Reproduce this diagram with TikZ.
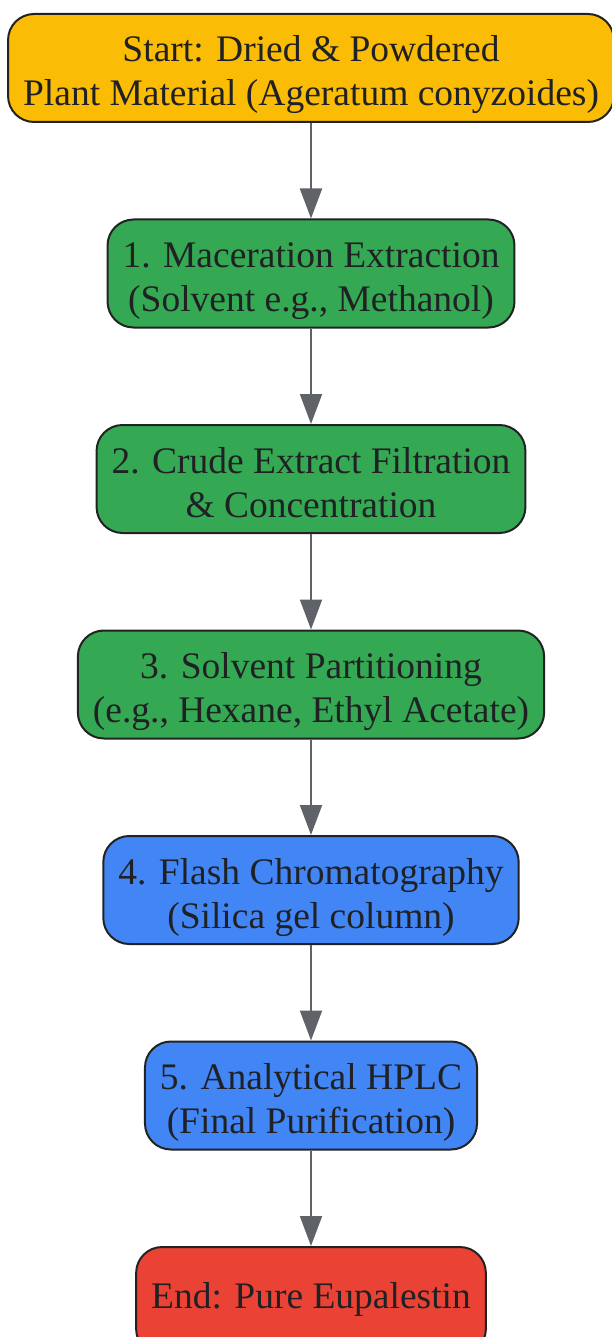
\documentclass[tikz,border=0pt]{standalone}
\usepackage{fontspec}
\setmainfont{Liberation Serif}
\usetikzlibrary{positioning,arrows.meta}

\definecolor{startyellow}{HTML}{FBBC05}
\definecolor{stepgreen}{HTML}{34A853}
\definecolor{stepblue}{HTML}{4285F4}
\definecolor{endred}{HTML}{EA4335}
\definecolor{boxline}{HTML}{222222}
\definecolor{arrowgray}{HTML}{5F6368}
\definecolor{labeltext}{HTML}{202124}

\begin{document}
\begin{tikzpicture}[x=1pt,y=1pt,
        node distance=95.5pt,
        stage/.style={draw=boxline, line width=2pt, rounded corners=26pt,
            minimum height=108pt, inner xsep=15pt, align=center,
            text height=76pt, text depth=0pt, text=labeltext,
            font=\fontsize{37.5}{44}\selectfont},
        flow/.style={draw=arrowgray, line width=2pt,
            -{Triangle[length=30pt,width=22pt]}}
    ]
    \useasboundingbox (0,0) rectangle (612,-1337);
    \node[stage, fill=startyellow] (start) at (311,-68)
        {Start: Dried \& Powdered\\Plant Material (Ageratum conyzoides)};
    \node[stage, fill=stepgreen, below=of start] (maceration)
        {1. Maceration Extraction\\(Solvent e.g., Methanol)};
    \node[stage, fill=stepgreen, below=of maceration] (filtration)
        {2. Crude Extract Filtration\\\& Concentration};
    \node[stage, fill=stepgreen, below=of filtration] (partition)
        {3. Solvent Partitioning\\(e.g., Hexane, Ethyl Acetate)};
    \node[stage, fill=stepblue, below=of partition] (flash)
        {4. Flash Chromatography\\(Silica gel column)};
    \node[stage, fill=stepblue, below=of flash] (hplc)
        {5. Analytical HPLC\\(Final Purification)};
    \node[stage, fill=endred, text height=26pt, text depth=12pt,
        below=of hplc] (finish)
        {End: Pure Eupalestin};
    \foreach \a/\b in {start/maceration, maceration/filtration,
            filtration/partition, partition/flash, flash/hplc, hplc/finish}
        \draw[flow] (\a) -- (\b);
\end{tikzpicture}
\end{document}
